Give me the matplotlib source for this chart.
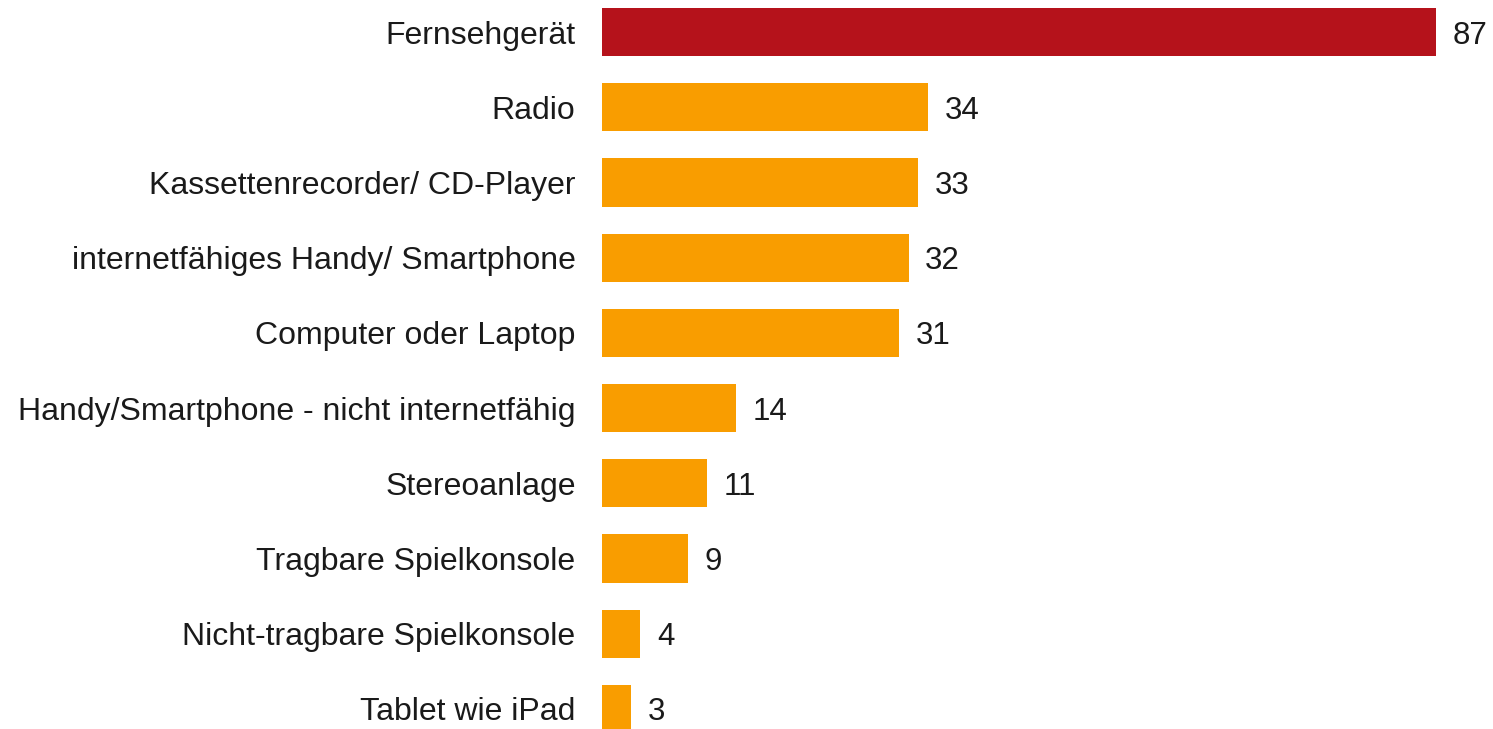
import matplotlib.pyplot as plt

# Data
categories = [
    'Fernsehgerät',
    'Radio',
    'Kassettenrecorder/ CD-Player',
    'internetfähiges Handy/ Smartphone',
    'Computer oder Laptop',
    'Handy/Smartphone - nicht internetfähig',
    'Stereoanlage',
    'Tragbare Spielkonsole',
    'Nicht-tragbare Spielkonsole',
    'Tablet wie iPad',
]
values = [87, 34, 33, 32, 31, 14, 11, 9, 4, 3]
highlight = 'Fernsehgerät'

red = '#B5121B'
orange = '#F99D00'
colors = [red if c == highlight else orange for c in categories]

plt.rcParams['font.family'] = ['Liberation Sans', 'DejaVu Sans']

fig = plt.figure(figsize=(14.93, 7.29), dpi=100)
ax = fig.add_axes([602 / 1493, 0, 1 - 602 / 1493, 1])

pos = list(range(len(categories)))
bars = ax.barh(pos, values, height=0.64, color=colors)
texts = ax.bar_label(bars, labels=[str(v) for v in values], padding=12,
                     fontsize=22.5, color='#1a1a1a')
for t in texts:
    t.set_va('center_baseline')

ax.set_yticks(pos)
ax.set_yticklabels(categories, fontsize=23, color='#1a1a1a')
ax.tick_params(axis='y', length=0, pad=19)
ax.set_xticks([])
ax.set_xlim(0, 93)
ax.set_ylim(9.266, -0.4255)
for s in ax.spines.values():
    s.set_visible(False)

fig.savefig('out.png', dpi=100)
